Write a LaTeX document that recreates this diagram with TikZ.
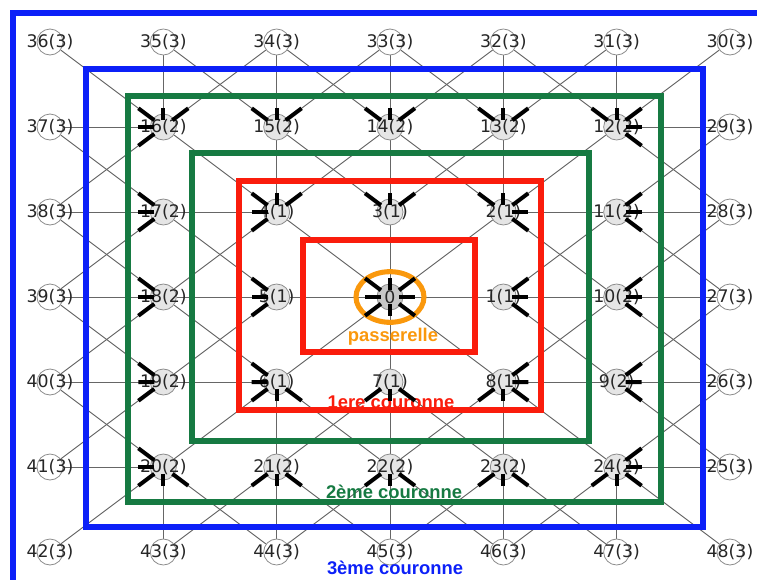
\documentclass[tikz,border=0pt]{standalone}
\usepackage{fontspec}
\setmainfont{DejaVu Sans}
\newfontfamily\zonefont{Liberation Sans}
\usepackage{tikz}
\usetikzlibrary{calc}
\definecolor{zoneblue}{RGB}{12,32,248}
\definecolor{zonegreen}{RGB}{22,122,66}
\definecolor{zonered}{RGB}{250,28,12}
\definecolor{zoneorange}{RGB}{250,152,12}
\pgfdeclarelayer{edges}
\pgfdeclarelayer{tips}
\pgfsetlayers{edges,main,tips}
\tikzset{
  hostnode/.style={
    circle,
    draw=black!45,
    line width=0.6pt,
    minimum size=19.5pt,
    inner sep=0pt
  },
  ring0/.style={hostnode, fill=black!22},
  ring1/.style={hostnode, fill=black!10},
  ring2/.style={hostnode, fill=black!10},
  ring3/.style={hostnode, fill=white},
  hostlabel/.style={
    font=\fontsize{13}{15}\selectfont,
    text=black!85,
    inner sep=0pt
  },
  link/.style={draw=black!60, line width=0.7pt},
  linktip/.style={draw=black, line width=3pt},
  zone/.style={line width=3.8pt},
  zonelabel/.style={
    font=\zonefont\bfseries\fontsize{13.8}{16}\selectfont,
    inner sep=0pt
  }
}

\begin{document}
\begin{tikzpicture}[x=0.75pt, y=-0.75pt]
  \useasboundingbox (0,0) rectangle (757,579);

  % hosts, column / row / label / ring
  \foreach \c/\r/\txt/\k in {
      0/0/36(3)/3, 1/0/35(3)/3, 2/0/34(3)/3, 3/0/33(3)/3, 4/0/32(3)/3, 5/0/31(3)/3, 6/0/30(3)/3,
      0/1/37(3)/3, 1/1/16(2)/2, 2/1/15(2)/2, 3/1/14(2)/2, 4/1/13(2)/2, 5/1/12(2)/2, 6/1/29(3)/3,
      0/2/38(3)/3, 1/2/17(2)/2, 2/2/4(1)/1,  3/2/3(1)/1,  4/2/2(1)/1,  5/2/11(2)/2, 6/2/28(3)/3,
      0/3/39(3)/3, 1/3/18(2)/2, 2/3/5(1)/1,  3/3/0/0,     4/3/1(1)/1,  5/3/10(2)/2, 6/3/27(3)/3,
      0/4/40(3)/3, 1/4/19(2)/2, 2/4/6(1)/1,  3/4/7(1)/1,  4/4/8(1)/1,  5/4/9(2)/2,  6/4/26(3)/3,
      0/5/41(3)/3, 1/5/20(2)/2, 2/5/21(2)/2, 3/5/22(2)/2, 4/5/23(2)/2, 5/5/24(2)/2, 6/5/25(3)/3,
      0/6/42(3)/3, 1/6/43(3)/3, 2/6/44(3)/3, 3/6/45(3)/3, 4/6/46(3)/3, 5/6/47(3)/3, 6/6/48(3)/3}
    \node[ring\k, label={[hostlabel]center:\txt}] (n\c\r) at ({50+113.33*\c},{42+85*\r}) {};

  % links between neighbouring rings, tip on the inner host
  \foreach \c in {0,...,6}
    \foreach \r in {0,...,6}
      \foreach \dc/\dr in {1/0,0/1,1/1,1/-1}{
        \pgfmathtruncatemacro\cc{\c+\dc}
        \pgfmathtruncatemacro\rr{\r+\dr}
        \pgfmathtruncatemacro\inside{(\cc<7)&&(\rr>=0)&&(\rr<7)}
        \ifnum\inside=1
          \pgfmathtruncatemacro\ka{max(abs(\c-3),abs(\r-3))}
          \pgfmathtruncatemacro\kb{max(abs(\cc-3),abs(\rr-3))}
          \ifnum\ka=\kb\else
            \ifnum\ka>\kb
              \edef\outer{n\c\r}\edef\inner{n\cc\rr}
            \else
              \edef\outer{n\cc\rr}\edef\inner{n\c\r}
            \fi
            \begin{pgfonlayer}{edges}
              \draw[link] (\outer) -- (\inner);
            \end{pgfonlayer}
            \begin{pgfonlayer}{tips}
              \draw[linktip] ($(\inner)!0.08!(\outer)$) -- ($(\inner)!0.22!(\outer)$);
            \end{pgfonlayer}
          \fi
        \fi
      }

  % zones
  \begin{scope}
    \clip (0,0) rectangle (757,579);
    \draw[zone, zoneblue] (13,13) rectangle (790,600);
  \end{scope}
  \draw[zone, zoneblue] (86,69) rectangle (703,527);
  \draw[zone, zonegreen] (128,96) rectangle (661,502);
  \draw[zone, zonegreen] (192,153) rectangle (589,441);
  \draw[zone, zonered] (239,181) rectangle (541,410);
  \draw[zone, zonered] (303,240) rectangle (475,352);
  \draw[zone, zoneorange] (n33) ellipse [x radius=25.5pt, y radius=19pt];

  \node[zonelabel, text=zoneorange] (gw) at (393,337) {passerelle};
  \node[zonelabel, text=zonered] (c1) at (391,402) {1ere couronne};
  \node[zonelabel, text=zonegreen] (c2) at (394,492) {2ème couronne};
  \node[zonelabel, text=zoneblue] (c3) at (395,568) {3ème couronne};
\end{tikzpicture}
\end{document}
